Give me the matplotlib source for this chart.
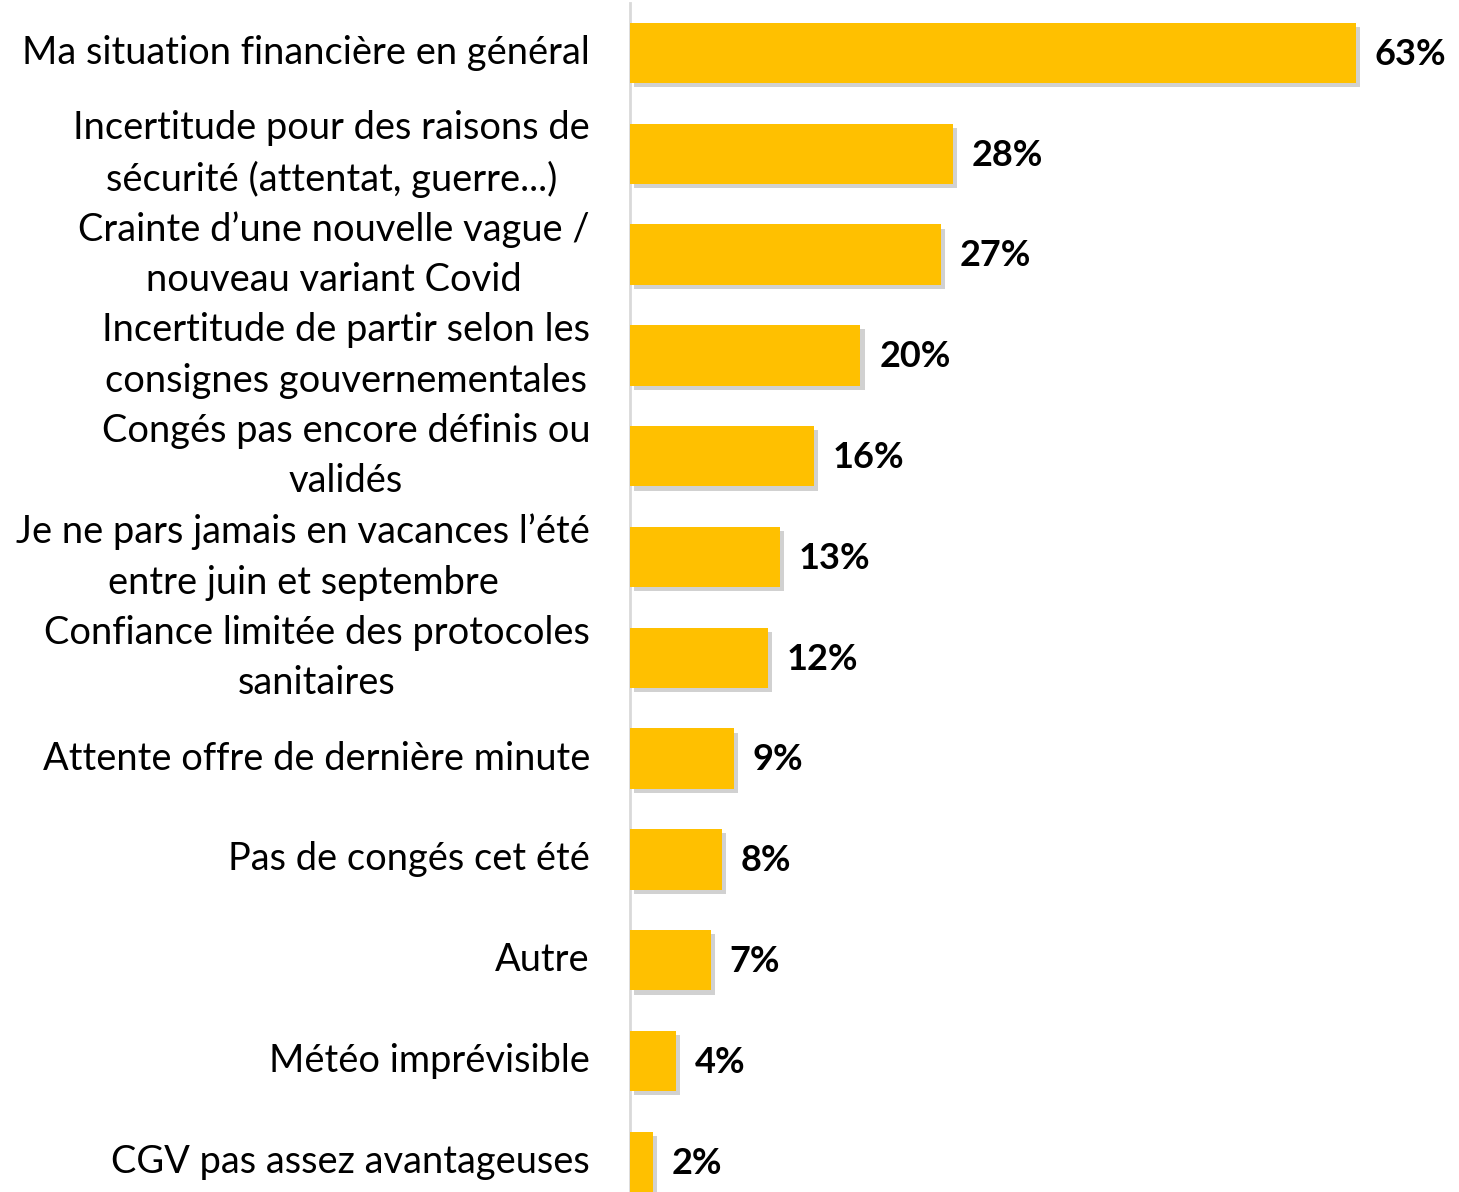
import numpy as np
import matplotlib.pyplot as plt
import matplotlib.patheffects as pe

# Data
labels = [
    "Ma situation financière en général",
    "Incertitude pour des raisons de\nsécurité (attentat, guerre...)",
    "Crainte d’une nouvelle vague /\nnouveau variant Covid",
    "Incertitude de partir selon les\nconsignes gouvernementales",
    "Congés pas encore définis ou\nvalidés",
    "Je ne pars jamais en vacances l’été\nentre juin et septembre",
    "Confiance limitée des protocoles\nsanitaires",
    "Attente offre de dernière minute",
    "Pas de congés cet été",
    "Autre",
    "Météo imprévisible",
    "CGV pas assez avantageuses",
]
values = [63, 28, 27, 20, 16, 13, 12, 9, 8, 7, 4, 2]

plt.rcParams['font.family'] = ['Lato', 'DejaVu Sans']

W, H = 1459, 1192
fig = plt.figure(figsize=(W / 100, H / 100), dpi=100)
left = 630 / W
ax = fig.add_axes([left, 0, 1 - left, 1])

pos = np.arange(len(values))
bars = ax.barh(pos, values, height=0.6, color='#FFC000', zorder=3)
for b in bars:
    b.set_path_effects([pe.SimplePatchShadow(offset=(3, -3), shadow_rgbFace='#8c8c8c', alpha=0.4),
                        pe.Normal()])

px_per_unit = 11.52
ax.set_xlim(0, (W - 630) / px_per_unit)
step = 100.8
ax.set_ylim((H - 53) / step, -53 / step)

for i, v in enumerate(values):
    ax.annotate(f"{v}%", (v, i), xytext=(13.5, -1), textcoords='offset points',
                ha='left', va='center', fontsize=26, fontweight='bold', color='black')

for i, lab in enumerate(labels):
    ax.annotate(lab, (0, i), xytext=(-28.8, 0), textcoords='offset points',
                ha='right', va='center', multialignment='center',
                fontsize=27.4, color='black', linespacing=1.5)

ax.set_xticks([])
ax.set_yticks([])
for s in ['top', 'right', 'bottom']:
    ax.spines[s].set_visible(False)
ax.spines['left'].set_color('#d9d9d9')
ax.spines['left'].set_linewidth(2)
ax.spines['left'].set_bounds(ax.get_ylim()[0], -0.5)

fig.savefig('out.png', dpi=100)
